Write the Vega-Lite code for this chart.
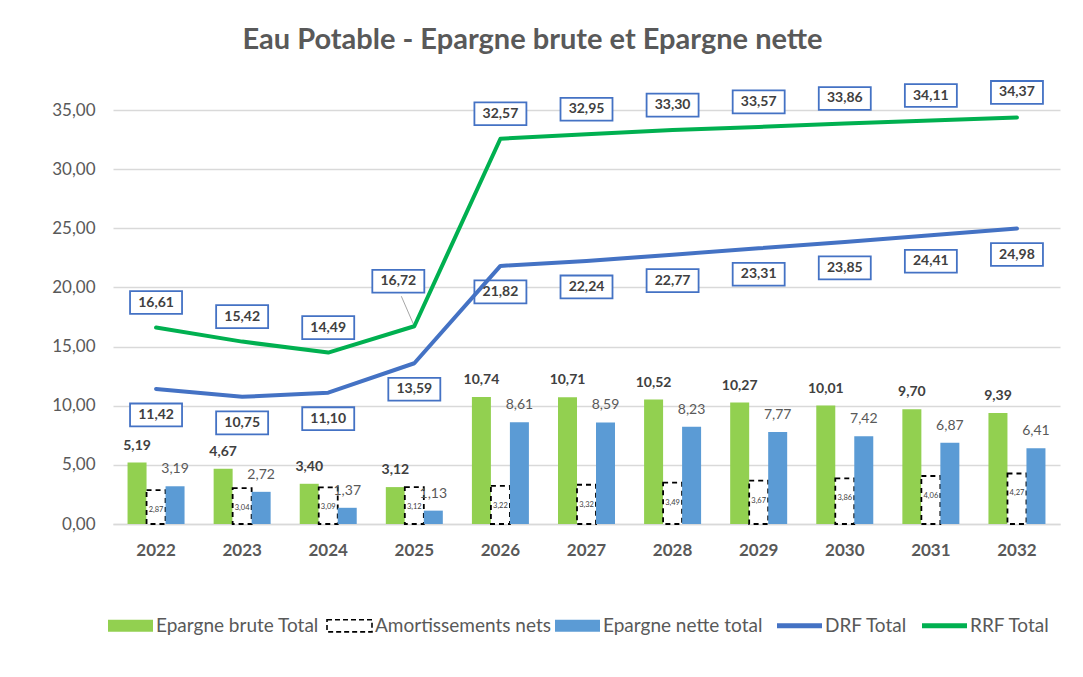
{
  "$schema": "https://vega.github.io/schema/vega-lite/v6.json",
  "width": 947,
  "height": 414,
  "autosize": {"type": "none"},
  "padding": {"left": 113, "top": 110, "right": 23, "bottom": 153},
  "background": "white",
  "title": {
    "text": "Eau Potable - Epargne brute et Epargne nette",
    "font": "Lato",
    "fontSize": 29,
    "fontWeight": "bold",
    "color": "#595959",
    "anchor": "middle",
    "frame": "group",
    "dx": -54,
    "offset": 22
  },
  "data": {
    "values": [
      {"year": 2022, "brute": 5.19, "amort": 2.87, "nette": 3.19, "drf": 11.42, "rrf": 16.61},
      {"year": 2023, "brute": 4.67, "amort": 3.04, "nette": 2.72, "drf": 10.75, "rrf": 15.42},
      {"year": 2024, "brute": 3.40, "amort": 3.09, "nette": 1.37, "drf": 11.10, "rrf": 14.49},
      {"year": 2025, "brute": 3.12, "amort": 3.12, "nette": 1.13, "drf": 13.59, "rrf": 16.72},
      {"year": 2026, "brute": 10.74, "amort": 3.22, "nette": 8.61, "drf": 21.82, "rrf": 32.57},
      {"year": 2027, "brute": 10.71, "amort": 3.32, "nette": 8.59, "drf": 22.24, "rrf": 32.95},
      {"year": 2028, "brute": 10.52, "amort": 3.49, "nette": 8.23, "drf": 22.77, "rrf": 33.30},
      {"year": 2029, "brute": 10.27, "amort": 3.67, "nette": 7.77, "drf": 23.31, "rrf": 33.57},
      {"year": 2030, "brute": 10.01, "amort": 3.86, "nette": 7.42, "drf": 23.85, "rrf": 33.86},
      {"year": 2031, "brute": 9.70, "amort": 4.06, "nette": 6.87, "drf": 24.41, "rrf": 34.11},
      {"year": 2032, "brute": 9.39, "amort": 4.27, "nette": 6.41, "drf": 24.98, "rrf": 34.37}
    ]
  },
  "encoding": {
    "x": {
      "field": "year",
      "type": "ordinal",
      "title": null,
      "scale": {"paddingInner": 0, "paddingOuter": 0},
      "axis": {
        "labelAngle": 0,
        "labelFont": "Lato",
        "labelFontSize": 17,
        "labelFontWeight": "bold",
        "labelColor": "#595959",
        "labelPadding": 18,
        "ticks": false,
        "domainColor": "#D9D9D9",
        "domainWidth": 1.5,
        "grid": false
      }
    }
  },
  "layer": [
    {
      "mark": {"type": "bar", "width": 19, "xOffset": -19, "fill": "#92D050"},
      "encoding": {
        "y": {
          "field": "brute",
          "type": "quantitative",
          "title": null,
          "scale": {"domain": [0, 35], "nice": false},
          "axis": {
            "values": [0, 5, 10, 15, 20, 25, 30, 35],
            "format": ".2f",
            "labelFont": "Lato",
            "labelFontSize": 17,
            "labelColor": "#595959",
            "labelPadding": 18,
            "ticks": false,
            "domain": false,
            "gridColor": "#D9D9D9",
            "gridWidth": 1.3
          }
        }
      }
    },
    {
      "mark": {"type": "bar", "width": 19, "xOffset": 0, "fill": "#FFFFFF", "stroke": "#000000", "strokeWidth": 1.8, "strokeDash": [5, 4], "fillOpacity": 1},
      "encoding": {
        "y": {"field": "amort", "type": "quantitative"}
      }
    },
    {
      "mark": {"type": "bar", "width": 19, "xOffset": 19, "fill": "#5B9BD5"},
      "encoding": {
        "y": {"field": "nette", "type": "quantitative"}
      }
    },
    {
      "mark": {"type": "point", "filled": true, "opacity": 0},
      "encoding": {
        "y": {"field": "nette", "type": "quantitative"},
        "fill": {
          "datum": "Epargne brute Total",
          "scale": {
            "domain": ["Epargne brute Total", "Amortissements nets", "Epargne nette total", "DRF Total", "RRF Total"],
            "range": ["#92D050", "#FFFFFF", "#5B9BD5", "#4472C4", "#00B050"]
          },
          "legend": {
            "title": null, "orient": "none", "legendX": -5, "legendY": 506, "direction": "horizontal", "columns": 5, "columnPadding": 4,
            "labelFont": "Lato", "labelFontSize": 19, "labelColor": "#595959", "labelOffset": 16, "labelLimit": 400, "symbolOffset": 13, "symbolSize": 2025,
            "encode": {"symbols": {"update": {
              "shape": {"signal": "(datum.label == 'DRF Total' || datum.label == 'RRF Total') ? 'stroke' : 'M-1,-0.27L1,-0.27L1,0.27L-1,0.27Z'"},
              "size": {"value": 2025},
              "fill": {"signal": "datum.label == 'Epargne brute Total' ? '#92D050' : (datum.label == 'Epargne nette total' ? '#5B9BD5' : (datum.label == 'Amortissements nets' ? '#FFFFFF' : 'transparent'))"},
              "stroke": {"signal": "datum.label == 'DRF Total' ? '#4472C4' : (datum.label == 'RRF Total' ? '#00B050' : (datum.label == 'Amortissements nets' ? '#000000' : 'transparent'))"},
              "strokeWidth": {"signal": "(datum.label == 'DRF Total' || datum.label == 'RRF Total') ? 5 : (datum.label == 'Amortissements nets' ? 1.6 : 0)"},
              "strokeDash": {"signal": "datum.label == 'Amortissements nets' ? [5, 3] : [1, 0]"},
              "opacity": {"value": 1}, "fillOpacity": {"value": 1}, "strokeOpacity": {"value": 1}
            }}}
          }
        }
      }
    },
    {
      "transform": [{"filter": "datum.year != 2025"}],
      "mark": {"type": "point", "shape": "M-1,-0.44L1,-0.44L1,0.44L-1,0.44Z", "size": 2704, "filled": true, "fill": "#FFFFFF", "stroke": "#4472C4", "strokeWidth": 1.8, "opacity": 1, "yOffset": -25},
      "encoding": {"y": {"field": "rrf", "type": "quantitative"}}
    },
    {
      "transform": [{"filter": "datum.year == 2025"}],
      "mark": {"type": "point", "shape": "M-1,-0.44L1,-0.44L1,0.44L-1,0.44Z", "size": 2704, "filled": true, "fill": "#FFFFFF", "stroke": "#4472C4", "strokeWidth": 1.8, "opacity": 1, "xOffset": -16, "yOffset": -45},
      "encoding": {"y": {"field": "rrf", "type": "quantitative"}}
    },
    {
      "transform": [{"filter": "datum.year == 2025"}],
      "mark": {"type": "point", "shape": "M0,0L-13,-30", "size": 4, "filled": false, "stroke": "#A6A6A6", "strokeWidth": 1, "opacity": 1},
      "encoding": {"y": {"field": "rrf", "type": "quantitative"}}
    },
    {
      "mark": {"type": "point", "shape": "M-1,-0.44L1,-0.44L1,0.44L-1,0.44Z", "size": 2704, "filled": true, "fill": "#FFFFFF", "stroke": "#4472C4", "strokeWidth": 1.8, "opacity": 1, "yOffset": 26},
      "encoding": {"y": {"field": "drf", "type": "quantitative"}}
    },
    {
      "mark": {"type": "line", "stroke": "#4472C4", "strokeWidth": 4, "interpolate": "linear", "strokeCap": "round", "strokeJoin": "round"},
      "encoding": {
        "y": {"field": "drf", "type": "quantitative"}
      }
    },
    {
      "mark": {"type": "line", "stroke": "#00B050", "strokeWidth": 4, "interpolate": "linear", "strokeCap": "round", "strokeJoin": "round"},
      "encoding": {
        "y": {"field": "rrf", "type": "quantitative"}
      }
    },
    {
      "mark": {"type": "text", "xOffset": -19, "baseline": "alphabetic", "dy": -13, "font": "Lato", "fontSize": 14, "fontWeight": "bold", "color": "#404040"},
      "encoding": {
        "y": {"field": "brute", "type": "quantitative"},
        "text": {"field": "brute", "type": "quantitative", "format": ".2f"}
      }
    },
    {
      "mark": {"type": "text", "xOffset": 19, "baseline": "alphabetic", "dy": -13, "font": "Lato", "fontSize": 14, "color": "#595959"},
      "encoding": {
        "y": {"field": "nette", "type": "quantitative"},
        "text": {"field": "nette", "type": "quantitative", "format": ".2f"}
      }
    },
    {
      "mark": {"type": "text", "xOffset": 0, "baseline": "middle", "dy": 20, "font": "Lato", "fontSize": 7.5, "color": "#404040"},
      "encoding": {
        "y": {"field": "amort", "type": "quantitative"},
        "text": {"field": "amort", "type": "quantitative", "format": ".2f"}
      }
    },
    {
      "transform": [{"filter": "datum.year != 2025"}],
      "mark": {"type": "text", "baseline": "middle", "yOffset": -25, "font": "Lato", "fontSize": 14, "fontWeight": "bold", "color": "#404040"},
      "encoding": {
        "y": {"field": "rrf", "type": "quantitative"},
        "text": {"field": "rrf", "type": "quantitative", "format": ".2f"}
      }
    },
    {
      "transform": [{"filter": "datum.year == 2025"}],
      "mark": {"type": "text", "baseline": "middle", "xOffset": -16, "yOffset": -45, "font": "Lato", "fontSize": 14, "fontWeight": "bold", "color": "#404040"},
      "encoding": {
        "y": {"field": "rrf", "type": "quantitative"},
        "text": {"field": "rrf", "type": "quantitative", "format": ".2f"}
      }
    },
    {
      "mark": {"type": "text", "baseline": "middle", "yOffset": 26, "font": "Lato", "fontSize": 14, "fontWeight": "bold", "color": "#404040"},
      "encoding": {
        "y": {"field": "drf", "type": "quantitative"},
        "text": {"field": "drf", "type": "quantitative", "format": ".2f"}
      }
    }
  ],
  "config": {
    "locale": {
      "number": {"decimal": ",", "thousands": " ", "grouping": [3], "currency": ["", " €"]}
    },
    "view": {"stroke": null}
  }
}
